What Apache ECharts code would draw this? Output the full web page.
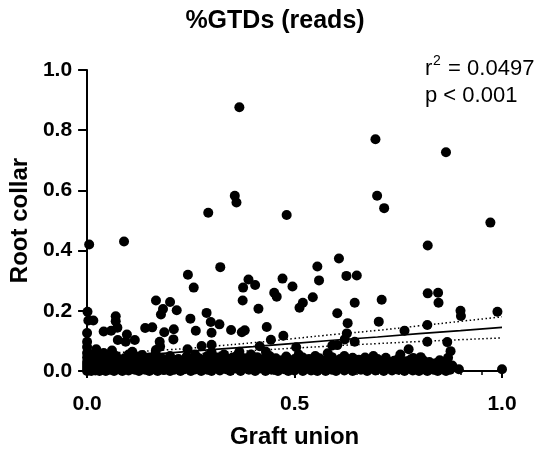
<!DOCTYPE html>
<html>
<head>
<meta charset="utf-8">
<script src="https://cdn.jsdelivr.net/npm/echarts@6/dist/echarts.min.js"></script>
<style>html,body{margin:0;padding:0;background:#fff;}#c{width:550px;height:456px;}</style>
</head>
<body>
<div id="c"></div>
<script>
// Scattered points above the dense band (x = Graft union, y = Root collar)
const upperPoints = [
  [0.005,0.42],[0.089,0.43],[0.292,0.526],[0.356,0.582],[0.36,0.56],[0.367,0.876],[0.481,0.518],
  [0.695,0.77],[0.699,0.582],[0.716,0.541],[0.865,0.727],[0.972,0.493],[0.821,0.417],
  [0.243,0.32],[0.257,0.277],[0.321,0.345],[0.376,0.277],[0.389,0.304],[0.405,0.286],[0.471,0.307],
  [0.495,0.281],[0.451,0.26],[0.457,0.247],[0.555,0.347],[0.559,0.301],[0.607,0.374],[0.625,0.316],
  [0.65,0.317],[0.821,0.258],[0.846,0.26],[0.847,0.227],[0.166,0.234],[0.2,0.229],[0.375,0.234],
  [0.544,0.245],[0.52,0.227],[0.512,0.21],[0.645,0.227],[0.71,0.237],[0.413,0.207],
  [0.183,0.206],[0.216,0.202],[0.178,0.188],
  [0.001,0.197],[0.003,0.168],[0.015,0.168],[0.0,0.126],[0.0,0.097],
  [0.069,0.182],[0.069,0.165],[0.04,0.131],[0.058,0.134],[0.073,0.144],[0.074,0.103],[0.096,0.121],
  [0.093,0.097],[0.115,0.103],[0.06,0.068],[0.022,0.072],
  [0.14,0.143],[0.157,0.145],[0.186,0.129],[0.209,0.139],[0.208,0.105],[0.175,0.097],[0.249,0.174],
  [0.262,0.134],[0.288,0.193],[0.298,0.163],[0.3,0.127],[0.319,0.155],
  [0.347,0.136],[0.373,0.129],[0.38,0.135],[0.433,0.146],[0.443,0.104],[0.473,0.117],[0.504,0.079],
  [0.416,0.082],[0.431,0.064],[0.367,0.064],
  [0.603,0.192],[0.628,0.159],[0.626,0.125],[0.621,0.105],[0.645,0.097],[0.591,0.085],[0.603,0.086],[0.58,0.059],
  [0.703,0.164],[0.765,0.134],[0.82,0.153],[0.9,0.2],[0.901,0.183],[0.989,0.197],[0.82,0.097],
  [0.868,0.096],[0.876,0.066],[0.775,0.072],[0.755,0.055],[0.786,0.043],[0.804,0.046],[0.862,0.03],
  [0.109,0.064],[0.133,0.053],[0.166,0.07],[0.176,0.081],[0.242,0.072],[0.276,0.083],[0.3,0.087]
];

// Dense band of points near zero
const lowPoints = [
  [0,0],[0,0.01],[0,0.02],[0,0.03],[0,0.045],[0,0.06],[0,0.08],
  [0.005,0.005],[0.005,0.025],[0.005,0.05],[0.01,0],[0.01,0.015],[0.01,0.035],
  [0.015,0.008],[0.015,0.028],[0.015,0.055],[0.02,0.002],[0.02,0.02],[0.02,0.04],
  [0.025,0.012],[0.025,0.03],[0.03,0],[0.03,0.018],[0.03,0.045],[0.035,0.006],[0.035,0.025],
  [0.04,0.01],[0.04,0.038],[0.04,0.06],[0.045,0],[0.045,0.022],[0.05,0.012],[0.05,0.032],
  [0.055,0.004],[0.055,0.045],[0.06,0.018],[0.06,0.028],[0.065,0],[0.065,0.01],[0.065,0.04],
  [0.07,0.022],[0.07,0.05],[0.075,0.006],[0.08,0.014],[0.08,0.035],[0.085,0],[0.085,0.026],
  [0.09,0.008],[0.09,0.042],[0.095,0.018],[0.1,0.002],[0.1,0.03],[0.1,0.055],[0.105,0.012],
  [0.11,0.022],[0.11,0.04],[0.115,0.004],[0.12,0.015],[0.12,0.032],[0.125,0],[0.125,0.048],
  [0.13,0.01],[0.13,0.025],[0.135,0.038],[0.14,0.004],[0.14,0.02],[0.145,0.03],
  [0.15,0],[0.15,0.012],[0.15,0.045],[0.155,0.024],[0.16,0.006],[0.16,0.036],[0.165,0.016],[0.165,0.058],
  [0.17,0],[0.17,0.028],[0.175,0.01],[0.18,0.02],[0.18,0.042],[0.185,0.003],[0.19,0.014],[0.19,0.034],
  [0.195,0.025],[0.2,0],[0.2,0.008],[0.2,0.05],[0.205,0.018],[0.21,0.03],[0.21,0.004],[0.215,0.012],
  [0.22,0.022],[0.22,0.04],[0.225,0],[0.23,0.015],[0.23,0.034],[0.235,0.006],[0.24,0.026],[0.24,0.048],
  [0.245,0.01],[0.25,0],[0.25,0.02],[0.25,0.038],[0.255,0.03],[0.26,0.005],[0.26,0.055],[0.265,0.016],
  [0.27,0.025],[0.27,0.042],[0.275,0],[0.28,0.012],[0.28,0.034],[0.285,0.022],[0.29,0.004],[0.29,0.05],
  [0.295,0.015],[0.3,0.028],[0.3,0],[0.3,0.062],[0.305,0.038],[0.31,0.01],[0.31,0.02],[0.315,0.045],
  [0.32,0.002],[0.32,0.03],[0.325,0.016],[0.33,0.024],[0.33,0.055],[0.335,0.006],[0.34,0.036],[0.34,0.012],
  [0.345,0],[0.35,0.02],[0.35,0.044],[0.355,0.028],[0.36,0.008],[0.36,0.05],[0.365,0.016],[0.37,0],
  [0.37,0.034],[0.375,0.024],[0.38,0.01],[0.38,0.042],[0.385,0.03],[0.39,0.004],[0.39,0.018],[0.395,0.055],
  [0.4,0.012],[0.4,0.036],[0.405,0],[0.41,0.024],[0.41,0.046],[0.415,0.008],[0.42,0.03],[0.42,0.016],
  [0.425,0.04],[0.43,0],[0.43,0.022],[0.435,0.012],[0.44,0.034],[0.44,0.05],[0.445,0.004],[0.45,0.018],
  [0.45,0.028],[0.455,0.042],[0.46,0],[0.46,0.01],[0.465,0.024],[0.47,0.036],[0.475,0.006],[0.475,0.015],
  [0.48,0.048],[0.485,0.02],[0.485,0],[0.49,0.03],[0.495,0.01],[0.5,0.04],[0.5,0.002],[0.505,0.022],
  [0.51,0.014],[0.51,0.055],[0.515,0.032],[0.52,0],[0.52,0.045],[0.525,0.018],[0.53,0.008],[0.53,0.028],
  [0.535,0.04],[0.54,0.002],[0.54,0.02],[0.545,0.034],[0.55,0.012],[0.55,0.05],[0.555,0],[0.56,0.026],
  [0.56,0.042],[0.565,0.008],[0.57,0.018],[0.57,0.032],[0.575,0],[0.58,0.012],[0.58,0.038],[0.585,0.024],
  [0.59,0.004],[0.59,0.046],[0.595,0.016],[0.6,0.03],[0.6,0],[0.605,0.02],[0.61,0.01],[0.61,0.04],
  [0.615,0.028],[0.62,0.002],[0.62,0.05],[0.625,0.016],[0.63,0.034],[0.63,0.008],[0.635,0.024],[0.64,0],
  [0.64,0.044],[0.645,0.012],[0.65,0.03],[0.65,0.02],[0.655,0.037],[0.66,0.004],[0.665,0.026],[0.67,0.012],
  [0.67,0.045],[0.675,0],[0.68,0.02],[0.68,0.034],[0.685,0.008],[0.69,0.028],[0.69,0.05],[0.695,0.002],
  [0.7,0.016],[0.7,0.04],[0.705,0.024],[0.71,0.006],[0.71,0.032],[0.715,0],[0.72,0.018],[0.72,0.044],
  [0.725,0.01],[0.73,0.028],[0.735,0.002],[0.74,0.034],[0.74,0.014],[0.745,0.022],[0.75,0.004],[0.75,0.04],
  [0.755,0.012],[0.76,0.026],[0.765,0],[0.77,0.018],[0.77,0.032],[0.775,0.008],[0.78,0.038],[0.785,0.002],
  [0.79,0.022],[0.795,0.012],[0.8,0.03],[0.8,0],[0.805,0.016],[0.81,0.006],[0.81,0.036],[0.815,0.024],
  [0.82,0],[0.82,0.012],[0.825,0.03],[0.83,0.018],[0.835,0.004],[0.84,0.01],[0.84,0.026],[0.845,0],
  [0.85,0.016],[0.85,0.036],[0.855,0.006],[0.86,0.022],[0.865,0],[0.87,0.012],[0.87,0.044],[0.875,0.004],
  [0.88,0.018],[0.896,0.006],[1.0,0.006]
];

// Regression line and 95% confidence band
const fitX     = [0, 0.1, 0.2, 0.3, 0.4, 0.5, 0.6, 0.7, 0.8, 0.9, 1.0];
const fitLine  = [0.039, 0.050, 0.060, 0.071, 0.081, 0.092, 0.103, 0.113, 0.124, 0.134, 0.145];
const bandUp   = [0.055, 0.063, 0.071, 0.082, 0.094, 0.108, 0.122, 0.135, 0.150, 0.165, 0.180];
const bandLow  = [0.023, 0.037, 0.049, 0.060, 0.068, 0.076, 0.084, 0.091, 0.098, 0.104, 0.110];

const titleText = '%GTDs (reads)';
const xName = 'Graft union';
const yName = 'Root collar';

const FONT = 'Arial, "Liberation Sans", sans-serif';
const pair = (xs, ys) => xs.map((x, i) => [x, ys[i]]);

const chart = echarts.init(document.getElementById('c'), null, {renderer: 'canvas'});
chart.setOption({
  animation: false,
  backgroundColor: '#fff',
  title: {
    text: titleText, left: 'center', top: 4,
    textStyle: {fontFamily: FONT, fontWeight: 'bold', fontSize: 25, color: '#000'}
  },
  grid: {left: 83, right: 48, top: 70, bottom: 85},
  xAxis: {
    type: 'value', min: 0, max: 1, interval: 0.5,
    name: xName, nameLocation: 'middle', nameGap: 54,
    nameTextStyle: {fontFamily: FONT, fontWeight: 'bold', fontSize: 24, color: '#000'},
    axisLine: {lineStyle: {color: '#000', width: 2}},
    axisTick: {length: 7, lineStyle: {color: '#000', width: 2}},
    minorTick: {show: true, splitNumber: 10, length: 4, lineStyle: {color: '#000', width: 1.5}},
    axisLabel: {formatter: v => v.toFixed(1), fontFamily: FONT, fontWeight: 'bold', fontSize: 21, color: '#000', margin: 23},
    splitLine: {show: false}
  },
  yAxis: {
    type: 'value', min: 0, max: 1, interval: 0.2,
    name: yName, nameLocation: 'middle', nameGap: 50, nameRotate: 90,
    nameTextStyle: {fontFamily: FONT, fontWeight: 'bold', fontSize: 24, color: '#000'},
    axisLine: {show: true, lineStyle: {color: '#000', width: 2}},
    axisTick: {show: true, length: 9, lineStyle: {color: '#000', width: 2}},
    axisLabel: {formatter: v => v.toFixed(1), fontFamily: FONT, fontWeight: 'bold', fontSize: 21, color: '#000', margin: 15},
    splitLine: {show: false}
  },
  series: [
    {type: 'scatter', data: lowPoints.concat(upperPoints), symbol: 'circle', symbolSize: 10,
     itemStyle: {color: '#000', opacity: 1}, clip: false, z: 2},
    {type: 'line', data: pair(fitX, fitLine), showSymbol: false, symbol: 'none',
     lineStyle: {color: '#000', width: 1.7}, z: 3},
    {type: 'line', data: pair(fitX, bandUp), showSymbol: false, symbol: 'none', smooth: true,
     lineStyle: {color: '#000', width: 1.5, type: [1.5, 2.5]}, z: 3},
    {type: 'line', data: pair(fitX, bandLow), showSymbol: false, symbol: 'none', smooth: true,
     lineStyle: {color: '#000', width: 1.5, type: [1.5, 2.5]}, z: 3}
  ],
  graphic: [
    {type: 'text', x: 425, y: 69, style: {text: 'r', font: '22px ' + FONT, fill: '#000', verticalAlign: 'middle'}},
    {type: 'text', x: 433, y: 61, style: {text: '2', font: '14px ' + FONT, fill: '#000', verticalAlign: 'middle'}},
    {type: 'text', x: 442, y: 69, style: {text: ' = 0.0497', font: '22px ' + FONT, fill: '#000', verticalAlign: 'middle'}},
    {type: 'text', x: 425, y: 96, style: {text: 'p < 0.001', font: '22px ' + FONT, fill: '#000', verticalAlign: 'middle'}}
  ]
});
</script>
</body>
</html>
